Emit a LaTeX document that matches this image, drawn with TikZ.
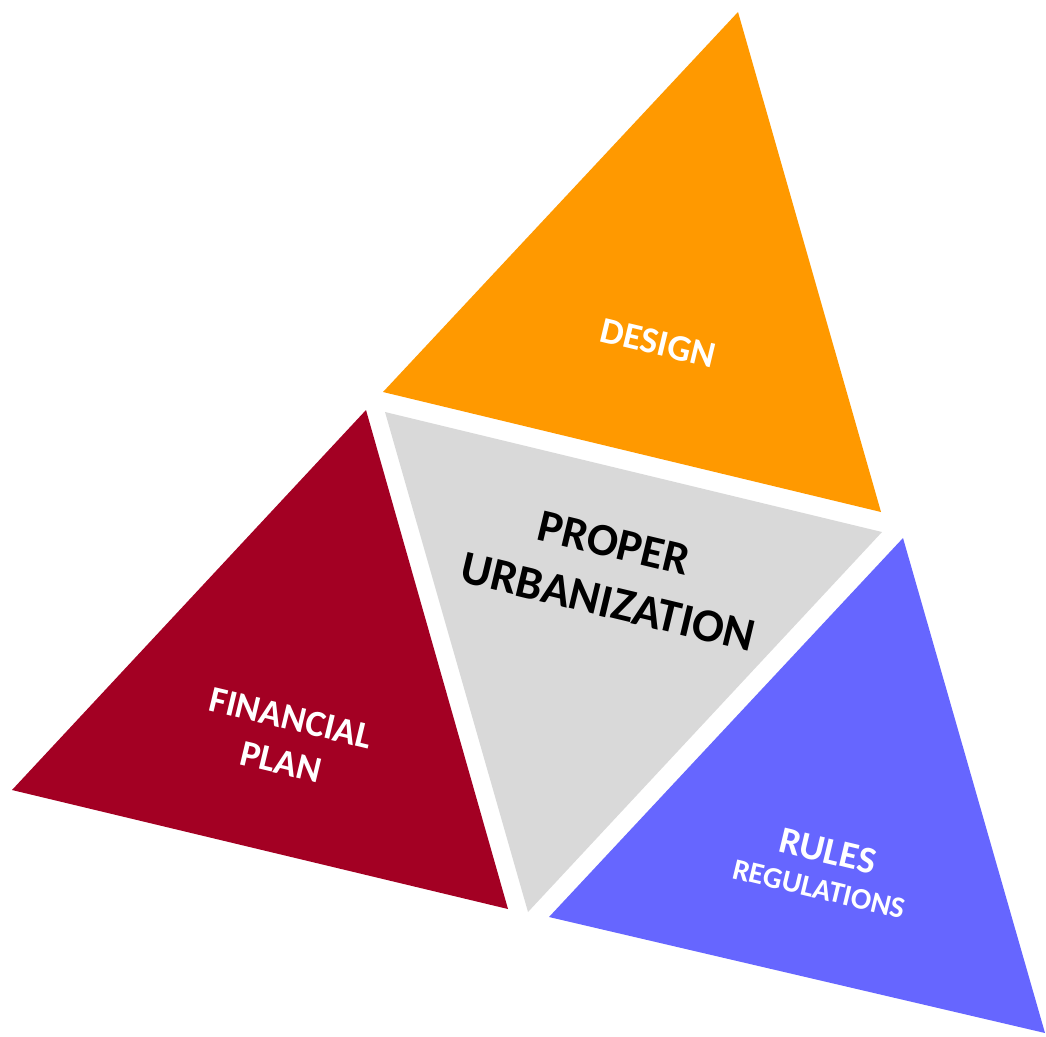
\documentclass[tikz,border=0pt]{standalone}
\usepackage{fontspec}
\setmainfont{Carlito}
\usepackage{tikz}
\usetikzlibrary{calc}

\definecolor{designorange}{RGB}{255,153,0}
\definecolor{coregray}{RGB}{217,217,217}
\definecolor{financered}{RGB}{163,0,35}
\definecolor{rulesblue}{RGB}{102,102,255}

\tikzset{
	label/.style={font=\bfseries, text=white, rotate=-13.5, align=center, inner sep=0pt},
	corelabel/.style={font=\bfseries, text=black, rotate=-13.5, align=center, inner sep=0pt}
}

\begin{document}
\begin{tikzpicture}[x=1pt,y=-1pt]
	\useasboundingbox (0,0) rectangle (1046,1036);
	
	% corners of the four triangles
	\coordinate (design1) at (738,12);
	\coordinate (design2) at (383,392);
	\coordinate (design3) at (881,512);
	
	\coordinate (core1) at (385,412);
	\coordinate (core2) at (882,532);
	\coordinate (core3) at (528,912);
	
	\coordinate (fin1) at (366,410);
	\coordinate (fin2) at (12,790);
	\coordinate (fin3) at (508,909);
	
	\coordinate (rules1) at (903,538);
	\coordinate (rules2) at (549,917);
	\coordinate (rules3) at (1045,1033);
	
	\fill[designorange] (design1) -- (design2) -- (design3) -- cycle;
	\fill[coregray] (core1) -- (core2) -- (core3) -- cycle;
	\fill[financered] (fin1) -- (fin2) -- (fin3) -- cycle;
	\fill[rulesblue] (rules1) -- (rules2) -- (rules3) -- cycle;
	
	\node[label, font=\fontsize{37}{44}\selectfont\bfseries] (design) at (658,343) {DESIGN};
	
	\node[corelabel, font=\fontsize{46}{54}\selectfont\bfseries] (proper) at (614,543) {PROPER};
	\node[corelabel, font=\fontsize{47}{54}\selectfont\bfseries] (urban) at (608,602) {URBANIZATION};
	
	\node[label, font=\fontsize{37}{44}\selectfont\bfseries] (financial) at (291,718) {FINANCIAL};
	\node[label, font=\fontsize{37}{44}\selectfont\bfseries] (plan) at (281,762) {PLAN};
	
	\node[label, font=\fontsize{38}{44}\selectfont\bfseries] (rules) at (828,851) {RULES};
	\node[label, font=\fontsize{30}{36}\selectfont\bfseries] (regs) at (819,889) {REGULATIONS};
	
\end{tikzpicture}
\end{document}
